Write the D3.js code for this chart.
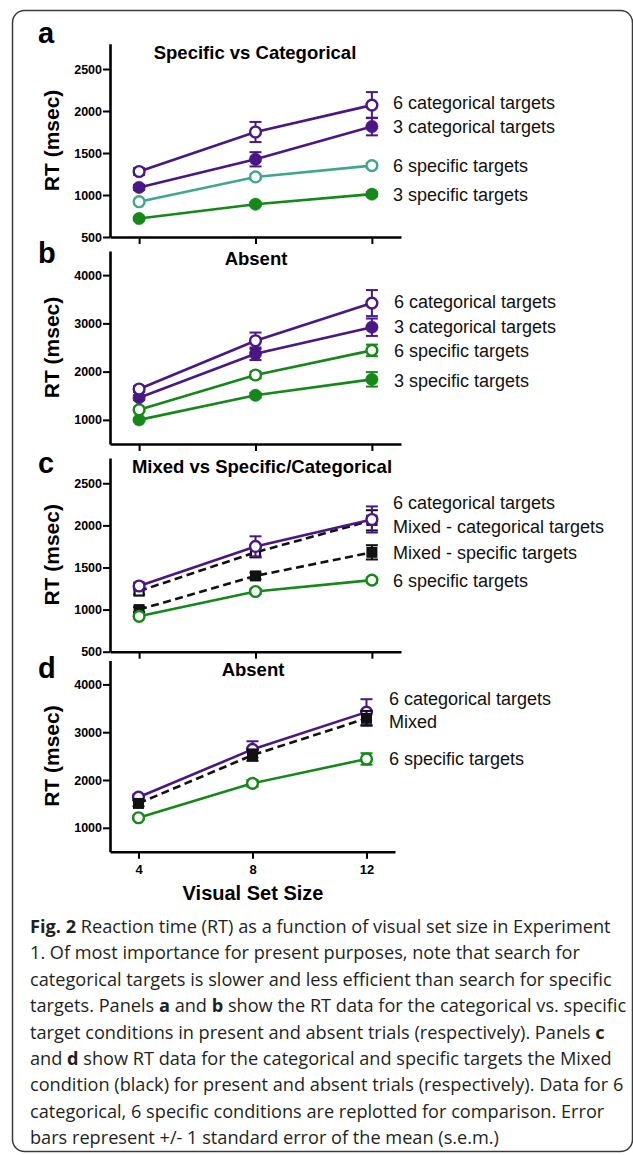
<!DOCTYPE html>
<html>
<head>
<meta charset="utf-8">
<script src="https://cdn.jsdelivr.net/npm/d3@7"></script>
<style>
  body { margin: 0; background: #fff; }
  svg { display: block; }
</style>
</head>
<body>
<svg id="fig" width="633" height="1155"></svg>
<script>
/*******************
  Data (RT in msec)
 *******************/
const setSizes = [4, 8, 12];

// panel a: target present, specific vs categorical
const aCat6 = [1280, 1750, 2070],  aCat6Err = [40, 120, 155];
const aCat3 = [1090, 1425, 1815],  aCat3Err = [30, 85, 105];
const aSpec6 = [920, 1215, 1350],  aSpec6Err = [20, 30, 30];
const aSpec3 = [720, 890, 1010],   aSpec3Err = [20, 20, 25];

// panel b: target absent
const bCat6 = [1640, 2640, 3420],  bCat6Err = [60, 170, 270];
const bCat3 = [1460, 2370, 2920],  bCat3Err = [50, 130, 180];
const bSpec6 = [1210, 1930, 2440], bSpec6Err = [40, 70, 120];
const bSpec3 = [1000, 1510, 1840], bSpec3Err = [30, 50, 150];

// panel c: mixed condition, present
const cMixCat = [1220, 1680, 2060],  cMixCatErr = [40, 60, 120];
const cMixSpec = [1000, 1400, 1680], cMixSpecErr = [30, 40, 85];

// panel d: mixed condition, absent
const dMix = [1510, 2520, 3290], dMixErr = [60, 120, 155];

const ticksPresent = [500, 1000, 1500, 2000, 2500];
const ticksAbsent = [1000, 2000, 3000, 4000];

const captionLines = [
  [["Fig. 2", true], [" Reaction time (RT) as a function of visual set size in Experiment", false]],
  [["1. Of most importance for present purposes, note that search for", false]],
  [["categorical targets is slower and less efficient than search for specific", false]],
  [["targets. Panels ", false], ["a", true], [" and ", false], ["b", true], [" show the RT data for the categorical vs. specific", false]],
  [["target conditions in present and absent trials (respectively). Panels ", false], ["c", true]],
  [["and ", false], ["d", true], [" show RT data for the categorical and specific targets the Mixed", false]],
  [["condition (black) for present and absent trials (respectively). Data for 6", false]],
  [["categorical, 6 specific conditions are replotted for comparison. Error", false]],
  [["bars represent +/- 1 standard error of the mean (s.e.m.)", false]]
];

/*******************
  Styles / layout
 *******************/
const purple = "#4a1786", green = "#14891a", teal = "#3fa88b", black = "#111";
const sansFont = "'Liberation Sans', Arial, Helvetica, sans-serif";

const panels = [
  { letter: "a", letterY: 43, title: "Specific vs Categorical", titleX: 255, titleY: 58.5,
    top: 43.8, bottom: 237, yDomain: [500, 2800], yTicks: ticksPresent, xRange: [110, 401],
    labelX: 393, xLabels: false,
    series: [
      { v: aSpec3, e: aSpec3Err, color: green, shape: "circle", open: false, label: "3 specific targets", ly: 195 },
      { v: aSpec6, e: aSpec6Err, color: teal, shape: "circle", open: true, label: "6 specific targets", ly: 166 },
      { v: aCat3, e: aCat3Err, color: purple, shape: "circle", open: false, label: "3 categorical targets", ly: 127 },
      { v: aCat6, e: aCat6Err, color: purple, shape: "circle", open: true, label: "6 categorical targets", ly: 103 }
    ] },
  { letter: "b", letterY: 263, title: "Absent", titleX: 256, titleY: 265,
    top: 251, bottom: 444, yDomain: [500, 4500], yTicks: ticksAbsent, xRange: [110, 401],
    labelX: 394, xLabels: false,
    series: [
      { v: bSpec3, e: bSpec3Err, color: green, shape: "circle", open: false, label: "3 specific targets", ly: 381 },
      { v: bSpec6, e: bSpec6Err, color: green, shape: "circle", open: true, label: "6 specific targets", ly: 350.7 },
      { v: bCat3, e: bCat3Err, color: purple, shape: "circle", open: false, label: "3 categorical targets", ly: 327.3 },
      { v: bCat6, e: bCat6Err, color: purple, shape: "circle", open: true, label: "6 categorical targets", ly: 302.3 }
    ] },
  { letter: "c", letterY: 473, title: "Mixed vs Specific/Categorical", titleX: 262, titleY: 473,
    top: 458, bottom: 651.7, yDomain: [500, 2800], yTicks: ticksPresent, xRange: [110, 401],
    labelX: 393, xLabels: false,
    series: [
      { v: cMixSpec, e: cMixSpecErr, color: black, shape: "square", open: false, dashed: true, label: "Mixed - specific targets", ly: 553.3 },
      { v: cMixCat, e: cMixCatErr, color: black, shape: "square", open: true, dashed: true, label: "Mixed - categorical targets", ly: 526.7 },
      { v: aSpec6, e: aSpec6Err, color: green, shape: "circle", open: true, label: "6 specific targets", ly: 581 },
      { v: aCat6, e: aCat6Err, color: purple, shape: "circle", open: true, label: "6 categorical targets", ly: 503.3 }
    ] },
  { letter: "d", letterY: 678, title: "Absent", titleX: 253, titleY: 676,
    top: 660.5, bottom: 851.7, yDomain: [500, 4500], yTicks: ticksAbsent, xRange: [110, 395],
    labelX: 389, xLabels: true,
    series: [
      { v: bCat6, e: bCat6Err, color: purple, shape: "circle", open: true, label: "6 categorical targets", ly: 699.3 },
      { v: dMix, e: dMixErr, color: black, shape: "square", open: false, dashed: true, label: "Mixed", ly: 721.7 },
      { v: bSpec6, e: bSpec6Err, color: green, shape: "circle", open: true, label: "6 specific targets", ly: 759 }
    ] }
];

const svg = d3.select("#fig");

// outer frame
svg.append("rect")
  .attr("x", 12.5).attr("y", 10.5)
  .attr("width", 620).attr("height", 1141)
  .attr("rx", 12)
  .attr("fill", "none")
  .attr("stroke", "#3a3a3a")
  .attr("stroke-width", 1.5);

/*******************
  Panels
 *******************/
panels.forEach(function(p) {
  const g = svg.append("g");

  const x = d3.scaleLinear().domain([3, 13]).range(p.xRange);
  const y = d3.scaleLinear().domain(p.yDomain).range([p.bottom, p.top]);

  // y axis
  const yAx = g.append("g")
    .attr("transform", `translate(${p.xRange[0]},0)`)
    .call(d3.axisLeft(y).tickValues(p.yTicks).tickFormat(d3.format("d"))
      .tickSize(7).tickSizeOuter(0).tickPadding(1));
  yAx.select(".domain").attr("stroke", "#000").attr("stroke-width", 2.6);
  yAx.selectAll(".tick line").attr("stroke", "#000").attr("stroke-width", 2);
  yAx.selectAll(".tick text")
    .attr("fill", "#000")
    .style("font-family", sansFont)
    .style("font-weight", "bold")
    .style("font-size", "12.5px");

  // x axis
  const xAx = g.append("g")
    .attr("transform", `translate(0,${p.bottom})`)
    .call(d3.axisBottom(x).tickValues(setSizes).tickSize(7).tickSizeOuter(0).tickPadding(6)
      .tickFormat(p.xLabels ? d3.format("d") : () => ""));
  xAx.select(".domain").attr("stroke", "#000").attr("stroke-width", 2.6);
  xAx.selectAll(".tick line").attr("stroke", "#000").attr("stroke-width", 2);
  xAx.selectAll(".tick text")
    .attr("fill", "#000")
    .style("font-family", sansFont)
    .style("font-weight", "bold")
    .style("font-size", "13px");

  // y label
  g.append("text")
    .attr("transform", `translate(59,${(p.top + p.bottom) / 2}) rotate(-90)`)
    .attr("text-anchor", "middle")
    .style("font-family", sansFont)
    .style("font-weight", "bold")
    .style("font-size", "21px")
    .text("RT (msec)");

  // panel letter
  g.append("text")
    .attr("x", 38).attr("y", p.letterY)
    .style("font-family", sansFont)
    .style("font-weight", "bold")
    .style("font-size", "29px")
    .text(p.letter);

  // title
  g.append("text")
    .attr("x", p.titleX).attr("y", p.titleY)
    .attr("text-anchor", "middle")
    .style("font-family", sansFont)
    .style("font-weight", "bold")
    .style("font-size", "18.5px")
    .text(p.title);

  const line = d3.line().x((d, i) => x(setSizes[i])).y(d => y(d));

  p.series.forEach(function(s) {
    const sg = g.append("g");

    // error bars
    const eb = sg.selectAll(".err").data(s.v).enter().append("g");
    eb.append("line")
      .attr("x1", (d, i) => x(setSizes[i])).attr("x2", (d, i) => x(setSizes[i]))
      .attr("y1", (d, i) => y(d - s.e[i])).attr("y2", (d, i) => y(d + s.e[i]))
      .attr("stroke", s.color).attr("stroke-width", 2);
    [-1, 1].forEach(function(sign) {
      eb.append("line")
        .attr("x1", (d, i) => x(setSizes[i]) - 6).attr("x2", (d, i) => x(setSizes[i]) + 6)
        .attr("y1", (d, i) => y(d + sign * s.e[i])).attr("y2", (d, i) => y(d + sign * s.e[i]))
        .attr("stroke", s.color).attr("stroke-width", 2);
    });

    // connecting line
    sg.append("path")
      .datum(s.v)
      .attr("d", line)
      .attr("fill", "none")
      .attr("stroke", s.color)
      .attr("stroke-width", 2.6)
      .attr("stroke-dasharray", s.dashed ? "8,4.5" : null);

    // markers
    if (s.shape === "circle") {
      sg.selectAll(".pt").data(s.v).enter().append("circle")
        .attr("cx", (d, i) => x(setSizes[i]))
        .attr("cy", d => y(d))
        .attr("r", s.open ? 5.4 : 6.2)
        .attr("fill", s.open ? "#fff" : s.color)
        .attr("stroke", s.color)
        .attr("stroke-width", s.open ? 2.4 : 0.5);
    } else {
      const side = s.open ? 9 : 11;
      sg.selectAll(".pt").data(s.v).enter().append("rect")
        .attr("x", (d, i) => x(setSizes[i]) - side / 2)
        .attr("y", d => y(d) - side / 2)
        .attr("width", side).attr("height", side)
        .attr("fill", s.open ? "#fff" : s.color)
        .attr("stroke", s.color)
        .attr("stroke-width", s.open ? 2.2 : 0);
    }

    // series label
    g.append("text")
      .attr("x", p.labelX).attr("y", s.ly + 6)
      .style("font-family", sansFont)
      .style("font-size", "18px")
      .attr("fill", "#111")
      .text(s.label);
  });
});

// x axis title under panel d
svg.append("text")
  .attr("x", 253).attr("y", 900)
  .attr("text-anchor", "middle")
  .style("font-family", sansFont)
  .style("font-weight", "bold")
  .style("font-size", "20px")
  .text("Visual Set Size");

/*******************
  Caption
 *******************/
const cap = svg.append("g").attr("fill", "#231f20")
  .style("font-family", "'Open Sans', 'Noto Sans', sans-serif");

const capTexts = captionLines.map(function(parts, li) {
  const t = cap.append("text").attr("x", 30).attr("y", 933 + li * 26.4).style("font-size", "16px");
  parts.forEach(function(pt) {
    t.append("tspan").style("font-weight", pt[1] ? "bold" : "normal").text(pt[0]);
  });
  return t;
});

// fit caption font so the first line spans like the original
const w0 = capTexts[0].node().getComputedTextLength();
const capSize = 16 * 581 / w0;
capTexts.forEach(t => t.style("font-size", capSize + "px"));
</script>
</body>
</html>
